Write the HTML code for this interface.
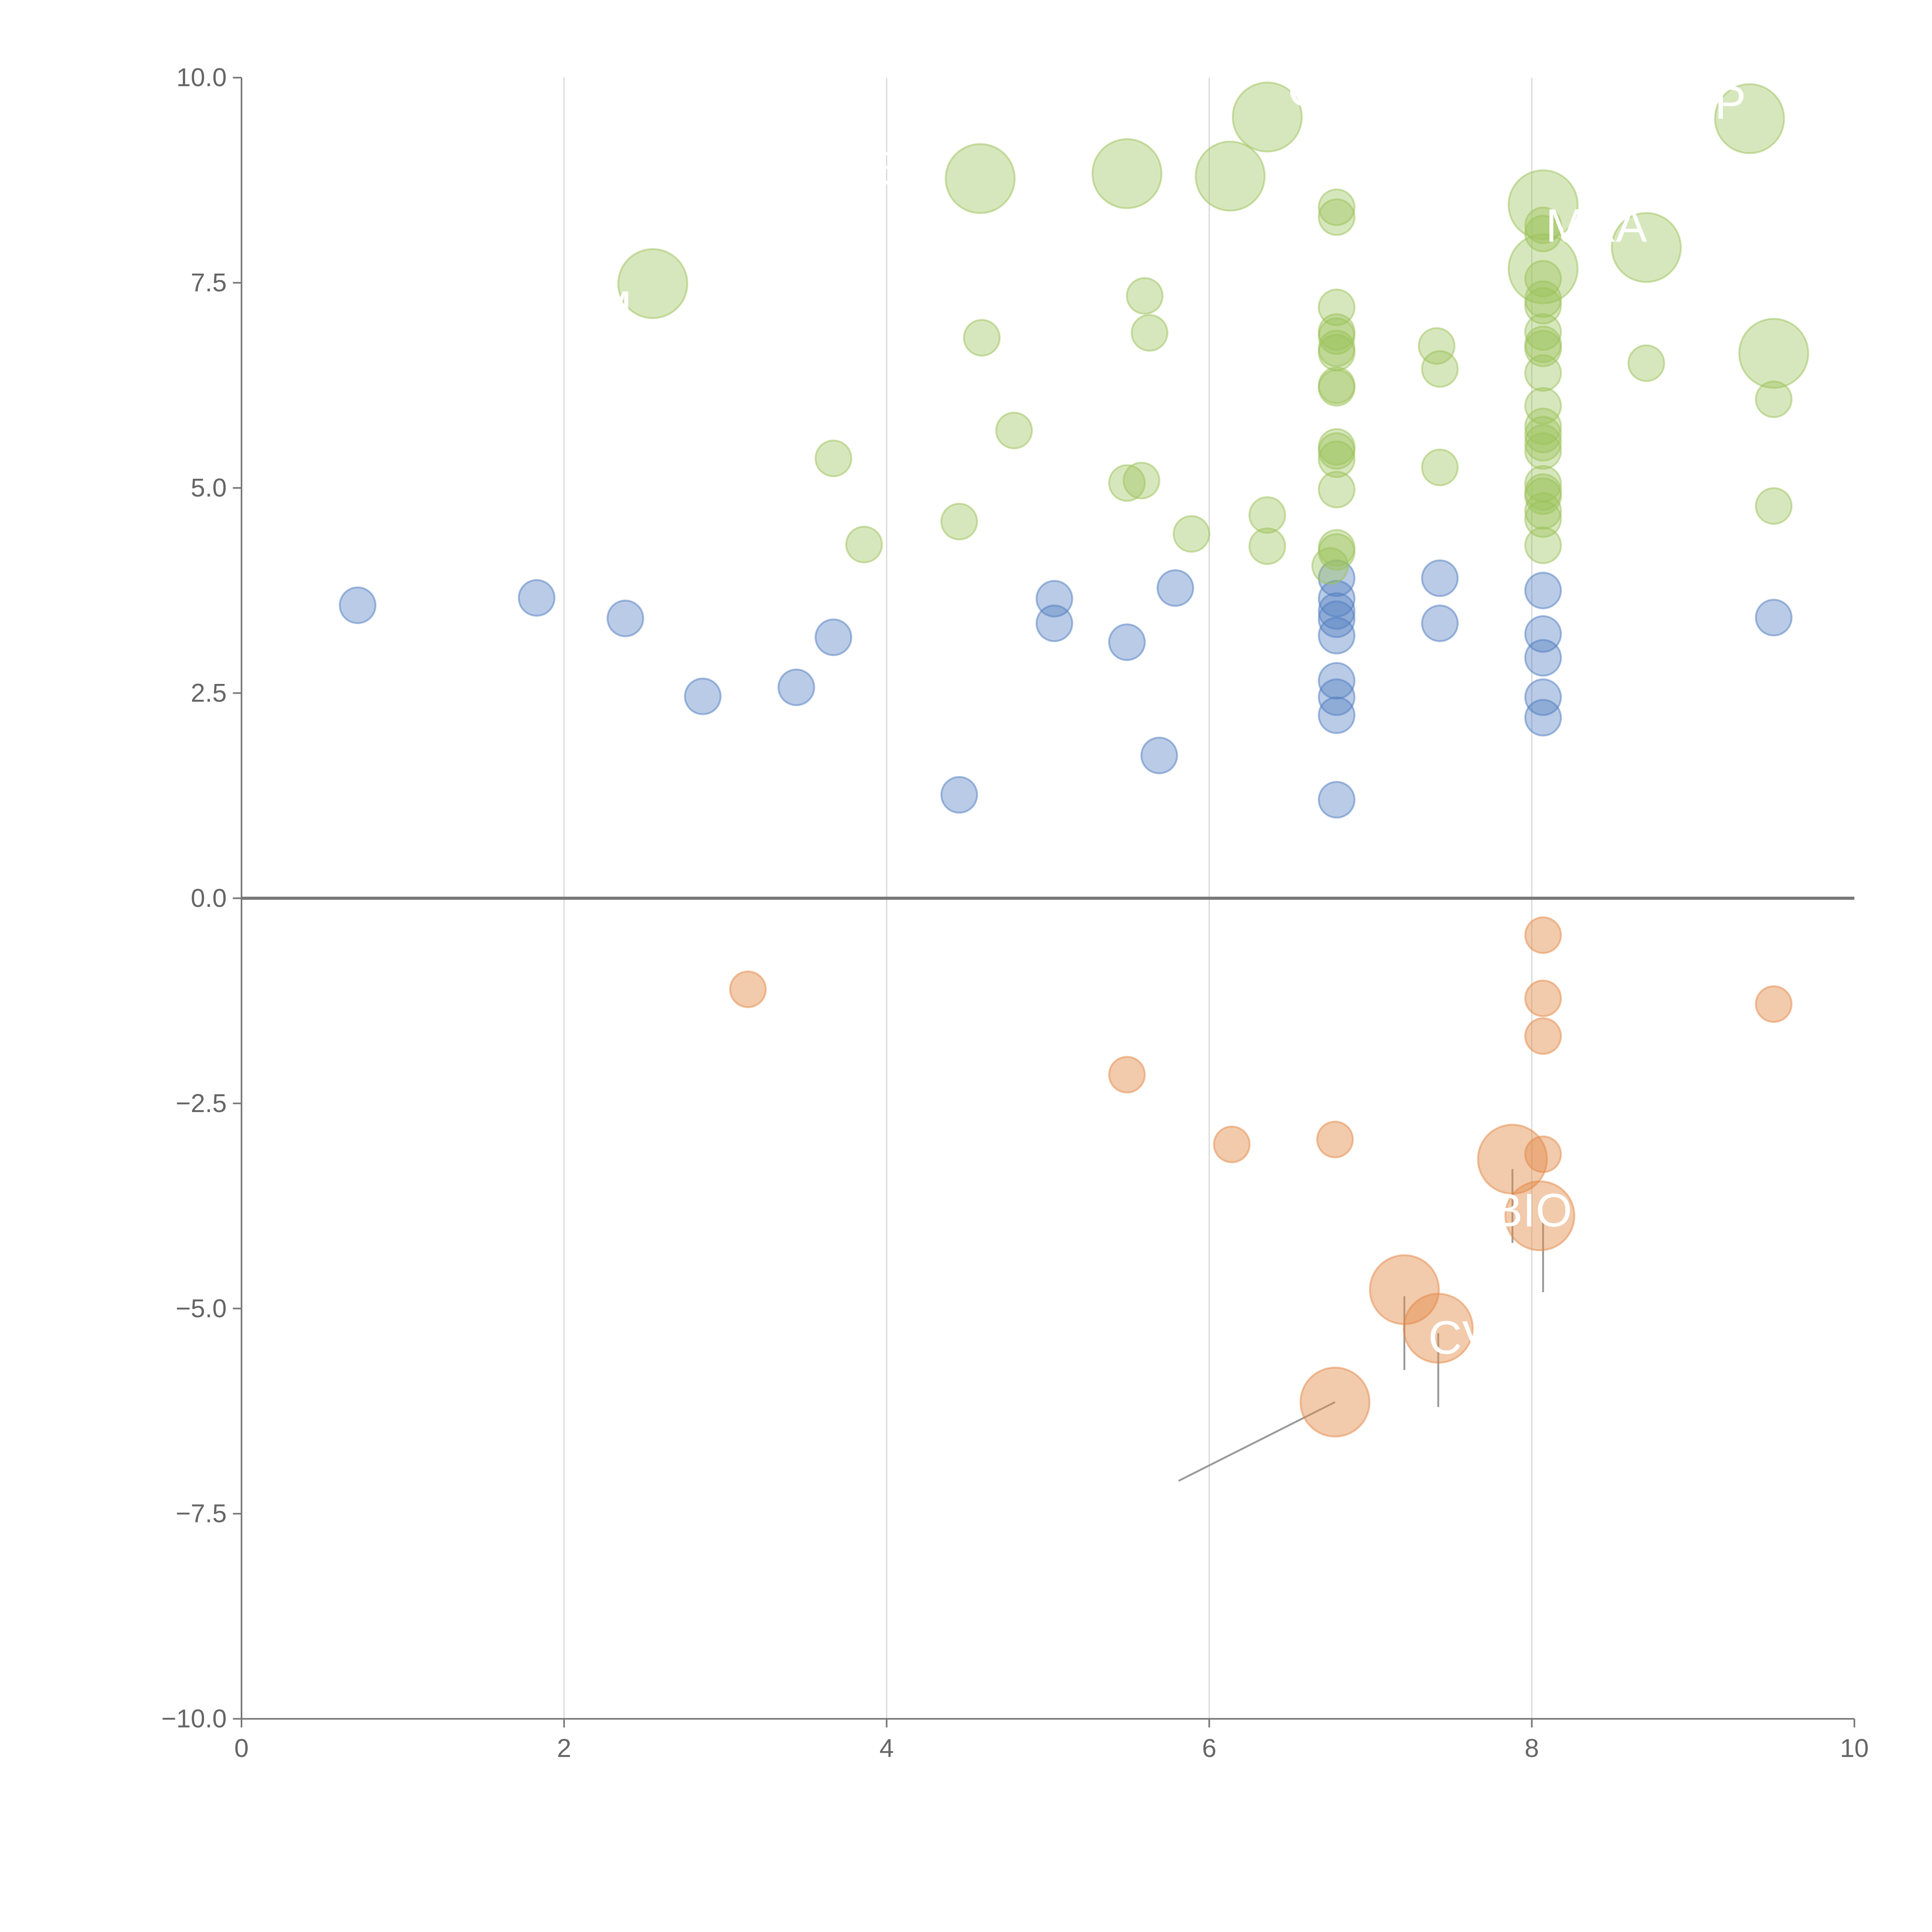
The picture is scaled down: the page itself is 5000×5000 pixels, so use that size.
<!DOCTYPE html>
<html><head><meta charset="utf-8">
<style>
html,body{margin:0;padding:0;background:#fff;width:5000px;height:5000px;overflow:hidden}
svg{display:block}
text{font-family:"Liberation Sans",sans-serif}
</style></head>
<body>
<svg id="chart" width="5000" height="5000" viewBox="0 0 1568 1568" xmlns="http://www.w3.org/2000/svg">
<g id="grid"></g>
<g id="axes"></g>
<g id="leaders"></g>
<g id="marks"></g>
<g id="labels"></g>
</svg>
<script>
const xTicks=[0,2,4,6,8,10];
const yTicks=[10,7.5,5,2.5,0,-2.5,-5,-7.5,-10];
const yTickLabels=["10.0","7.5","5.0","2.5","0.0","\u22122.5","\u22125.0","\u22127.5","\u221210.0"];
const blueX=[0.72,1.83,2.38,2.86,3.44,3.67,4.45,5.04,5.04,5.49,5.69,5.79,6.79,6.79,6.79,6.79,6.79,6.79,6.79,6.79,6.79,7.43,7.43,8.07,8.07,8.07,8.07,8.07,9.5];
const blueY=[3.57,3.66,3.41,2.46,2.57,3.18,1.26,3.65,3.35,3.12,1.74,3.78,3.9,3.65,3.5,3.4,3.2,2.65,2.45,2.23,1.2,3.9,3.35,3.75,3.22,2.93,2.45,2.2,3.42];
const orangeX=[3.14,5.49,6.14,6.78,8.07,8.07,8.07,8.07,9.5];
const orangeY=[-1.11,-2.15,-3.0,-2.94,-0.45,-1.22,-1.68,-3.12,-1.29];
const orangeBigX=[7.88,8.05,7.21,7.42,6.78];
const orangeBigY=[-3.18,-3.87,-4.77,-5.24,-6.14];
const greenX=[3.67,3.86,4.45,4.59,4.79,5.49,5.58,5.6,5.63,5.89,6.36,6.36,
6.79,6.79,6.79,6.79,6.79,6.79,6.79,6.79,6.79,6.79,6.79,6.79,6.79,6.79,6.79,6.75,
7.41,7.43,7.43,
8.07,8.07,8.07,8.07,8.07,8.07,8.07,8.07,8.07,8.07,8.07,8.07,8.07,8.07,8.07,8.07,8.07,8.07,8.07,8.07,
8.71,9.5,9.5];
const greenY=[5.36,4.31,4.59,6.83,5.7,5.06,5.09,7.34,6.89,4.44,4.67,4.29,
8.42,8.3,7.2,6.9,6.85,6.7,6.65,6.25,6.22,5.5,5.45,5.35,4.98,4.27,4.22,4.05,
6.73,6.45,5.25,
8.2,8.1,7.55,7.3,7.22,6.9,6.75,6.7,6.4,6.0,5.75,5.65,5.55,5.45,5.05,4.95,4.9,4.72,4.62,4.3,
6.52,6.08,4.78];
const greenBigX=[2.55,4.58,5.49,6.13,6.36,8.07,8.07,8.71,9.35,9.5];
const greenBigY=[7.49,8.77,8.83,8.8,9.52,8.45,7.67,7.93,9.5,6.64];

const X0=196,X1=1505,Y0=1395,Y1=63;
const sx=v=>X0+(v-0)/(10-0)*(X1-X0);
const sy=v=>Y0-(v+10)/20*(Y0-Y1);
const NS="http://www.w3.org/2000/svg";
function mk(parent,tag,attrs){const e=document.createElementNS(NS,tag);for(const k in attrs)e.setAttribute(k,attrs[k]);document.getElementById(parent).appendChild(e);return e;}

xTicks.forEach(t=>{
  if(t>0&&t<10){const g=mk('grid','line',{x1:sx(t),x2:sx(t),y1:Y1,y2:Y0,stroke:'#d9d9d9','stroke-width':1});
  
  }
  const tk=mk('axes','line',{x1:sx(t),x2:sx(t),y1:Y0,y2:Y0+7,stroke:'#777','stroke-width':1.3});
  
  
  const tx=mk('axes','text',{x:sx(t),y:Y0+31,'text-anchor':'middle','font-size':21,fill:'#666'});
  tx.textContent=t;
  
  
});
yTicks.forEach((t,i)=>{
  const tk=mk('axes','line',{x1:X0-7,x2:X0,y1:sy(t),y2:sy(t),stroke:'#777','stroke-width':1.3});
  
  
  const tx=mk('axes','text',{x:X0-12,y:sy(t)+7,'text-anchor':'end','font-size':21,fill:'#666'});
  tx.textContent=yTickLabels[i];
  
  
});
let a=mk('axes','line',{x1:X0,x2:X0,y1:Y1,y2:Y0,stroke:'#777','stroke-width':1.3});


a=mk('axes','line',{x1:X0,x2:X1,y1:Y0,y2:Y0,stroke:'#777','stroke-width':1.3});


a=mk('axes','line',{x1:X0,x2:X1,y1:sy(0),y2:sy(0),stroke:'#777','stroke-width':2.5});



const leadX=[[6.78,5.81],[7.88,7.88],[8.07,8.07],[7.21,7.21],[7.42,7.42]];
const leadY=[[-6.14,-7.1],[-3.3,-4.2],[-3.9,-4.8],[-4.85,-5.75],[-5.3,-6.2]];
leadX.forEach((lx,i)=>{
  const l=mk('leaders','line',{x1:sx(lx[0]),x2:sx(lx[1]),y1:sy(leadY[i][0]),y2:sy(leadY[i][1]),stroke:'#999','stroke-width':1.5});
  
  
});

function series(xs,ys,r,color,op,name){
  xs.forEach((x,i)=>{
    const c=mk('marks','circle',{cx:sx(x),cy:sy(ys[i]),r:r,fill:color,'fill-opacity':op,stroke:color,'stroke-opacity':0.5,'stroke-width':1.5});
    
    
  });
}
series(blueX,blueY,14.5,'#4f7cc0',0.4,'blue-point');
series(greenX,greenY,14.5,'#9cc25a',0.4,'green-point');
series(greenBigX,greenBigY,28,'#9cc25a',0.4,'green-big-point');
series(orangeX,orangeY,14.5,'#e38a48',0.45,'orange-point');
series(orangeBigX,orangeBigY,28,'#e38a48',0.45,'orange-big-point');

const labelText=["BIO","CVI","MKA","LP","G","M","E"];
const labelX=[8.0,7.6,8.4,9.15,6.6,2.3,3.95];
const labelY=[-4.0,-5.55,8.0,9.5,9.65,7.0,8.7];
labelText.forEach((t,i)=>{
  const tx=mk('labels','text',{x:sx(labelX[i]),y:sy(labelY[i]),'text-anchor':'middle','font-size':38,fill:'#fff'});
  tx.textContent=t;
  
  
});
</script>
</body></html>
